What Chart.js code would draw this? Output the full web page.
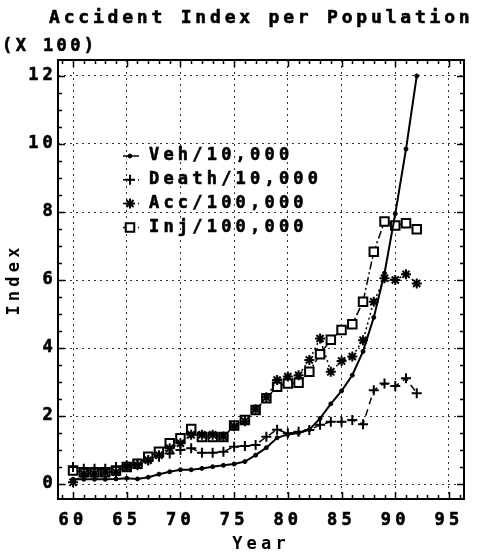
<!DOCTYPE html>
<html>
<head>
<meta charset="utf-8">
<script src="https://cdn.jsdelivr.net/npm/chart.js@4/dist/chart.umd.min.js"></script>
<style>
  html, body { margin: 0; padding: 0; background: #fff; }
  canvas { display: block; }
</style>
</head>
<body>
<canvas id="chart" width="479" height="557"></canvas>
<script>
// Yearly index values (scaled by 100)
const years = [60, 61, 62, 63, 64, 65, 66, 67, 68, 69,
               70, 71, 72, 73, 74, 75, 76, 77, 78, 79,
               80, 81, 82, 83, 84, 85, 86, 87, 88, 89,
               90, 91, 92];

const vehicles = [0.14, 0.14, 0.14, 0.14, 0.15, 0.17, 0.15, 0.20, 0.29, 0.36,
                  0.42, 0.42, 0.46, 0.51, 0.55, 0.59, 0.66, 0.85, 1.07, 1.36,
                  1.46, 1.50, 1.60, 1.93, 2.36, 2.74, 3.20, 3.90, 4.90, 6.20,
                  7.95, 9.85, 12.00];

const deaths = [0.50, 0.45, 0.45, 0.45, 0.50, 0.55, 0.60, 0.70, 0.80, 0.90,
                1.00, 1.05, 0.92, 0.92, 0.95, 1.10, 1.12, 1.15, 1.39, 1.60,
                1.49, 1.54, 1.59, 1.74, 1.83, 1.83, 1.88, 1.76, 2.76, 2.96,
                2.88, 3.11, 2.67];

const accidents = [0.05, 0.30, 0.30, 0.35, 0.35, 0.50, 0.55, 0.70, 0.85, 1.05,
                   1.20, 1.45, 1.45, 1.45, 1.40, 1.70, 1.85, 2.20, 2.55, 3.06,
                   3.16, 3.20, 3.65, 4.28, 3.30, 3.62, 3.75, 4.23, 5.36, 6.05,
                   6.00, 6.17, 5.90];

const injuries = [0.40, 0.35, 0.35, 0.35, 0.40, 0.50, 0.60, 0.80, 0.95, 1.20,
                  1.35, 1.62, 1.38, 1.38, 1.38, 1.72, 1.88, 2.18, 2.52, 2.86,
                  2.96, 2.98, 3.30, 3.82, 4.24, 4.53, 4.70, 5.36, 6.83, 7.72,
                  7.60, 7.67, 7.49];

const seriesLabels = ['Veh/10,000', 'Death/10,000', 'Acc/100,000', 'Inj/100,000'];
const xTickValues = [60, 65, 70, 75, 80, 85, 90, 95];
const yTickValues = [0, 2, 4, 6, 8, 10, 12];

const chartTitle = 'Accident Index per Population';
const scaleNote = '(X 100)';

const FAMILY = '"DejaVu Sans Mono", "Liberation Mono", monospace';
const SPACING = '4.2px';
const STROKE = 0.6;

const toPoints = values => years.map((yr, i) => ({ x: yr, y: values[i] }));

// Wide plotter-style lettering for every text drawn on the canvas
const letterSpacingPlugin = {
  id: 'letterSpacing',
  beforeUpdate(chart) { chart.ctx.letterSpacing = SPACING; },
  beforeDraw(chart) { chart.ctx.letterSpacing = SPACING; }
};

// Boxed frame with inward tick marks on all four sides
const framePlugin = {
  id: 'frame',
  afterDraw(chart) {
    const { ctx, chartArea: { left, right, top, bottom }, scales: { x, y } } = chart;
    ctx.save();
    ctx.setLineDash([]);
    ctx.strokeStyle = '#000';
    ctx.lineWidth = 1.5;
    ctx.beginPath();
    for (let v = Math.ceil(x.min); v <= x.max; v += 1) {
      const px = Math.round(x.getPixelForValue(v)) + 0.5;
      const len = v % 5 === 0 ? 7 : 4;
      ctx.moveTo(px, top); ctx.lineTo(px, top + len);
      ctx.moveTo(px, bottom); ctx.lineTo(px, bottom - len);
    }
    for (let v = 0; v <= y.max; v += 0.5) {
      const py = Math.round(y.getPixelForValue(v)) + 0.5;
      const len = v % 2 === 0 ? 7 : 4;
      ctx.moveTo(left, py); ctx.lineTo(left + len, py);
      ctx.moveTo(right, py); ctx.lineTo(right - len, py);
    }
    ctx.stroke();
    ctx.lineWidth = 2;
    ctx.strokeRect(left, top, right - left, bottom - top);
    ctx.restore();
  }
};

function heavyText(ctx, text, x, y) {
  ctx.lineWidth = STROKE;
  ctx.strokeStyle = '#000';
  ctx.fillText(text, x, y);
  ctx.strokeText(text, x, y);
}

// Title, unit note and the in-plot series key
const textPlugin = {
  id: 'texts',
  afterDraw(chart) {
    const { ctx } = chart;
    ctx.save();
    ctx.fillStyle = '#000';
    ctx.textAlign = 'left';
    ctx.textBaseline = 'alphabetic';
    ctx.font = `bold 18px ${FAMILY}`;
    ctx.letterSpacing = '3.8px';
    heavyText(ctx, chartTitle, 49, 23);
    ctx.font = `bold 17px ${FAMILY}`;
    ctx.letterSpacing = '3.4px';
    heavyText(ctx, scaleNote, 2, 51);
    ctx.restore();
  },
  afterDatasetsDraw(chart) {
    const { ctx, chartArea } = chart;
    const x0 = chartArea.left + 72;
    const y0 = chartArea.top + 96;
    const rowH = 23.8;
    ctx.save();
    ctx.letterSpacing = SPACING;
    ctx.font = `bold 17px ${FAMILY}`;
    ctx.textAlign = 'left';
    ctx.textBaseline = 'middle';
    chart.data.datasets.forEach((ds, i) => {
      const yy = y0 + i * rowH;
      ctx.strokeStyle = '#000';
      ctx.lineWidth = 1.5;
      ctx.setLineDash(i === 0 ? [] : [2, 3]);
      ctx.beginPath();
      ctx.moveTo(x0 - 7, yy); ctx.lineTo(x0 + 9, yy);
      ctx.stroke();
      ctx.setLineDash([]);
      ctx.fillStyle = ds.pointBackgroundColor || '#000';
      ctx.lineWidth = ds.pointBorderWidth;
      Chart.helpers.drawPoint(ctx, {
        pointStyle: ds.pointStyle, rotation: 0,
        radius: ds.pointRadius, borderWidth: ds.pointBorderWidth
      }, x0, yy);
      ctx.fillStyle = '#000';
      heavyText(ctx, ds.label, x0 + 19, yy);
    });
    ctx.restore();
  }
};

const tickFont = { family: FAMILY, size: 17, weight: 'bold' };

new Chart(document.getElementById('chart'), {
  type: 'line',
  data: {
    datasets: [
      {
        label: seriesLabels[0], data: toPoints(vehicles),
        borderColor: '#000', backgroundColor: '#000', borderWidth: 2,
        pointStyle: 'circle', pointRadius: 2, pointBorderWidth: 1,
        pointBackgroundColor: '#000', pointBorderColor: '#000'
      },
      {
        label: seriesLabels[1], data: toPoints(deaths),
        borderColor: '#000', borderWidth: 1.5, borderDash: [7, 5],
        pointStyle: 'cross', pointRadius: 5, pointBorderWidth: 2,
        pointBorderColor: '#000', pointBackgroundColor: '#000'
      },
      {
        label: seriesLabels[2], data: toPoints(accidents),
        borderColor: '#000', borderWidth: 1.5, borderDash: [2, 3],
        pointStyle: 'star', pointRadius: 5, pointBorderWidth: 2,
        pointBorderColor: '#000', pointBackgroundColor: '#000'
      },
      {
        label: seriesLabels[3], data: toPoints(injuries),
        borderColor: '#000', borderWidth: 1.5, borderDash: [8, 3, 2, 3],
        pointStyle: 'rect', pointRadius: 6, pointBorderWidth: 2,
        pointBorderColor: '#000', pointBackgroundColor: '#fff'
      }
    ]
  },
  options: {
    responsive: false,
    animation: false,
    devicePixelRatio: 1,
    layout: { padding: { top: 60, right: 15, left: 0, bottom: 0 } },
    plugins: {
      legend: { display: false },
      title: { display: false },
      tooltip: { enabled: false }
    },
    scales: {
      x: {
        type: 'linear', min: 58.6, max: 96.4,
        afterBuildTicks: s => { s.ticks = xTickValues.map(v => ({ value: v })); },
        afterFit: s => { s.height = 58; },
        ticks: { font: tickFont, color: '#000', padding: 11, maxRotation: 0, autoSkip: false,
                 textStrokeColor: '#000', textStrokeWidth: STROKE,
                 callback: v => String(v) },
        grid: { color: '#333', lineWidth: 1, drawTicks: false, borderDash: [2, 4] },
        border: { display: false, dash: [2, 4] },
        title: { display: true, text: 'Year', font: tickFont, color: '#000',
                 padding: { top: 0, bottom: 2 } }
      },
      y: {
        type: 'linear', min: -0.44, max: 12.47,
        afterBuildTicks: s => { s.ticks = yTickValues.map(v => ({ value: v })); },
        afterFit: s => { s.width = 58; },
        ticks: { font: tickFont, color: '#000', padding: 1,
                 textStrokeColor: '#000', textStrokeWidth: STROKE,
                 callback: v => String(v) },
        grid: { color: '#333', lineWidth: 1, drawTicks: false, borderDash: [2, 4] },
        border: { display: false, dash: [2, 4] },
        title: { display: true, text: 'Index', font: tickFont, color: '#000',
                 padding: { top: 4, bottom: 0 } }
      }
    }
  },
  plugins: [letterSpacingPlugin, framePlugin, textPlugin]
});
</script>
</body>
</html>
